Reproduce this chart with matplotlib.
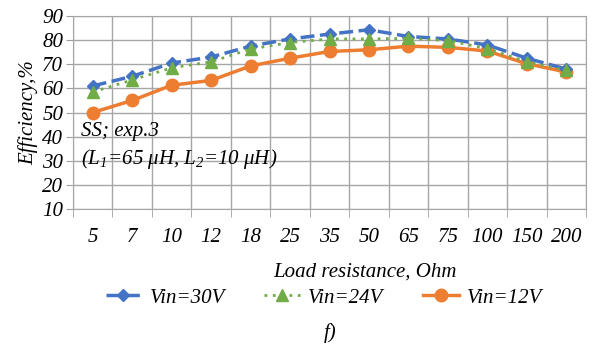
import numpy as np
import matplotlib.pyplot as plt
from matplotlib.lines import Line2D

plt.rcParams['mathtext.fontset'] = 'custom'
plt.rcParams['mathtext.it'] = 'Liberation Serif:italic'
plt.rcParams['mathtext.rm'] = 'Liberation Serif:italic'

loads = ['5', '7', '10', '12', '18', '25', '35', '50', '65', '75', '100', '150', '200']
vin30 = [61, 65, 70.5, 73, 77.5, 80.5, 82.5, 84.3, 81.5, 80.5, 78, 72.5, 68]
vin24 = [58.5, 63.5, 68.5, 71, 76.3, 79, 80.5, 80.5, 80.7, 79.8, 76.5, 71, 67.5]
vin12 = [50, 55, 61.3, 63.3, 69.3, 72.5, 75.3, 76, 77.5, 77, 75.5, 70.2, 66.8]
yticks = [10, 20, 30, 40, 50, 60, 70, 80, 90]

# all text in Times-like italic
tf = dict(family='Liberation Serif', style='italic', size=15)

fig = plt.figure(figsize=(5.92, 3.49), dpi=100)
ax = fig.add_axes([73 / 592, 1 - 209 / 349, (586 - 73) / 592, (209 - 16) / 349])

x = np.arange(len(loads))
ax.plot(x, vin30, color='#4472c4', lw=2.5, dashes=(4, 1.6), marker='D', ms=6, zorder=3)
ax.plot(x, vin24, color='#70ad47', lw=2, ls=(0, (1, 2)), marker='^', ms=8, zorder=4)
ax.plot(x, vin12, color='#ed7d31', lw=2.5, marker='o', ms=9, zorder=2)

ax.set_xlim(-0.5, len(loads) - 0.5)
ax.set_ylim(10, 90)
ax.set_yticks(yticks)
ax.set_yticklabels([str(v) for v in yticks], fontdict=tf)
ax.set_xticks(x)
ax.set_xticklabels(loads, fontdict=tf)
ax.tick_params(axis='x', length=0, pad=14)
ax.tick_params(axis='y', length=5, color='#a0a0a0', pad=2)
ax.set_xticks(np.arange(-0.5, len(loads)), minor=True)
ax.tick_params(axis='x', which='minor', length=6, color='#a0a0a0')
ax.grid(True, axis='y', color='#a6a6a6', lw=1)
ax.grid(True, axis='x', which='minor', color='#a6a6a6', lw=1)
for s in ax.spines.values():
    s.set_color('#a6a6a6')
ax.set_axisbelow(True)

ax.set_ylabel('Efficiency,%', fontdict=tf, labelpad=3)
fig.text(365 / 592, 1 - 272 / 349, 'Load resistance, Ohm', fontdict=tf, ha='center', va='center')
ax.text(0.015, 0.40, 'SS; exp.3', transform=ax.transAxes, fontdict=tf, va='center')
ax.text(0.015, 0.26, '(L$_{1}$=65 μH, L$_{2}$=10 μH)', transform=ax.transAxes, fontdict=tf, va='center')

handles = [
    Line2D([], [], color='#4472c4', lw=2.5, dashes=(4, 1.6), marker='D', ms=6),
    Line2D([], [], color='#70ad47', lw=2, ls=(0, (1, 2)), marker='^', ms=8),
    Line2D([], [], color='#ed7d31', lw=2.5, marker='o', ms=9),
]
fig.legend(handles, ['Vin=30V', 'Vin=24V', 'Vin=12V'], loc='center', bbox_to_anchor=(324 / 592, 1 - 298 / 349),
           ncol=3, frameon=False, prop=tf, handlelength=1.7, columnspacing=1.9, handletextpad=0.4)
fig.text(330 / 592, 1 - 333 / 349, 'f)', fontdict=tf, ha='center', va='center')

fig.savefig('out.png', dpi=100)
